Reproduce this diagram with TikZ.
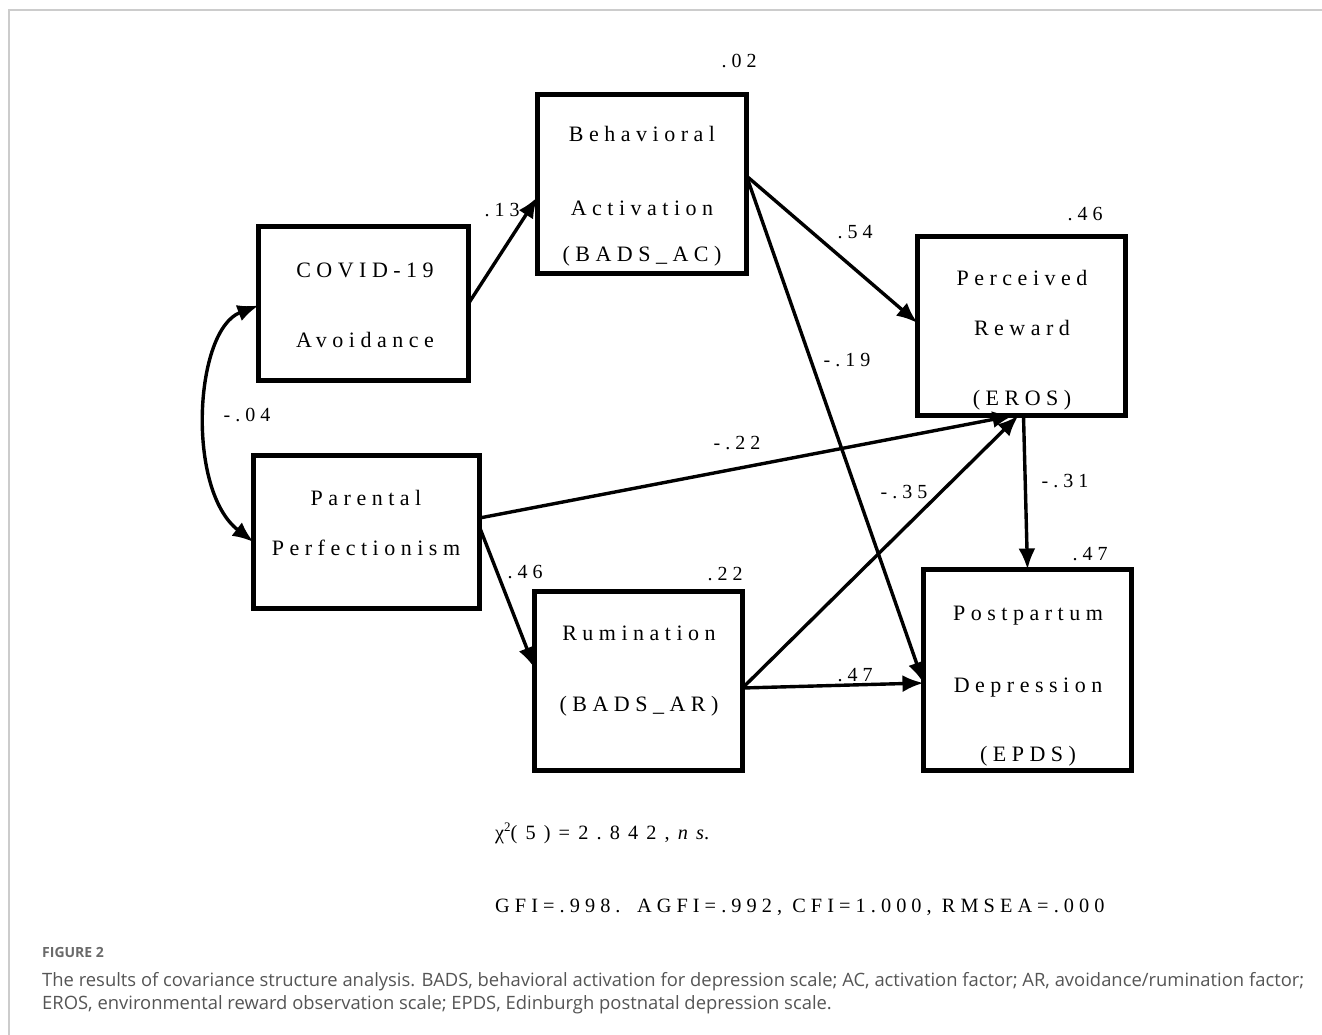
\documentclass[tikz,border=0pt]{standalone}
\usepackage{fontspec}
\usepackage{graphicx}
\setmainfont{Liberation Serif}
\newfontfamily\spfont[LetterSpace=25]{Liberation Serif}
\newfontfamily\widefont[LetterSpace=40]{Liberation Serif}
\newfontfamily\capfont{Open Sans}
\usetikzlibrary{arrows.meta}
\definecolor{capgray}{HTML}{555555}
\definecolor{figgray}{HTML}{6A6A6A}
\definecolor{framegray}{HTML}{CCCCCC}
\begin{document}
\begin{tikzpicture}[x=1pt,y=-1pt,
  box/.style={draw, line width=5.5pt, inner sep=0pt, outer sep=0pt},
  txt/.style={font=\fontsize{22}{24}\spfont, anchor=base, inner sep=0pt},
  lab/.style={font=\fontsize{20}{22}\spfont, anchor=base, inner sep=0pt},
  arr/.style={line width=3.4pt, -{Latex[length=21pt,width=17pt]}},
  cov/.style={line width=3.4pt, {Latex[length=21pt,width=17pt]}-{Latex[length=21pt,width=17pt]}},
  captxt/.style={anchor=base west, inner sep=0pt, text=capgray}
]
\useasboundingbox (0,0) rectangle (1322,1035);
\fill[white] (0,0) rectangle (1322,1035);
\draw[framegray, line width=2pt] (9,1035) -- (9,10) -- (1322,10);

% boxes
\node[box, minimum width=209pt, minimum height=179pt] (ba) at (642,184) {};
\node[box, minimum width=210pt, minimum height=154pt] (cv) at (363.5,303.5) {};
\node[box, minimum width=226pt, minimum height=153pt] (pa) at (366.5,532) {};
\node[box, minimum width=208pt, minimum height=179pt] (ru) at (638.5,681) {};
\node[box, minimum width=208pt, minimum height=179pt] (pe) at (1021.5,326) {};
\node[box, minimum width=208pt, minimum height=201pt] (pd) at (1027.5,670) {};

% box texts
\node[txt] (ba1) at (642,142) {Behavioral};
\node[txt] (ba2) at (642,215) {Activation};
\node[txt] (ba3) at (642,261) {(BADS\_AC)};
\node[txt] (cv1) at (365,277) {COVID-19};
\node[txt] (cv2) at (365,347) {Avoidance};
\node[txt] (pa1) at (366,505) {Parental};
\node[txt] (pa2) at (366,555) {Perfectionism};
\node[txt] (ru1) at (639,640) {Rumination};
\node[txt] (ru2) at (639,711) {(BADS\_AR)};
\node[txt] (pe1) at (1022,285) {Perceived};
\node[txt] (pe2) at (1022,335) {Reward};
\node[txt] (pe3) at (1022,405) {(EROS)};
\node[txt] (pd1) at (1028,620) {Postpartum};
\node[txt] (pd2) at (1028,692) {Depression};
\node[txt] (pd3) at (1028,761) {(EPDS)};

% paths
\draw[arr] (cv.east) -- ([yshift=-13pt]ba.west);
\draw[arr] ([yshift=8pt]ba.east) -- ([yshift=3pt]pe.west);
\draw[arr] ([yshift=8pt]ba.east) -- ([yshift=-13pt]pd.west);
\draw[arr] ([yshift=14pt]pa.east) -- ([xshift=-8pt]pe.south);
\draw[arr] ([yshift=5pt]pa.east) -- ([yshift=13pt]ru.west);
\draw[arr] ([yshift=-7pt]ru.east) -- ([xshift=-3pt]pe.south);
\draw[arr] ([yshift=-7pt]ru.east) -- ([yshift=-13pt]pd.west);
\draw[arr] ([xshift=2pt]pe.south) -- (pd.north);
\draw[cov] ([yshift=-2pt]cv.west) .. controls (194,330) and (186,490) .. ([yshift=-10pt]pa.west);

% coefficient labels
\node[lab] (l02) at (739,68) {.02};
\node[lab] (l13) at (502,216) {.13};
\node[lab] (l46a) at (1085,220) {.46};
\node[lab] (l54) at (855,238) {.54};
\node[lab] (l19) at (847,366) {-.19};
\node[lab] (l04) at (247,421) {-.04};
\node[lab] (l22a) at (737,449) {-.22};
\node[lab] (l35) at (904,498) {-.35};
\node[lab] (l31) at (1065,487) {-.31};
\node[lab] (l47a) at (1090,560) {.47};
\node[lab] (l46b) at (525,578) {.46};
\node[lab] (l22b) at (725,580) {.22};
\node[lab] (l47b) at (855,681) {.47};

% fit statistics
\node[font=\fontsize{20.3}{22}\widefont, anchor=base west, inner sep=0pt] (chi) at (495,839) {\makebox[214pt][s]{χ\raisebox{0.35em}{\fontsize{13}{14}\selectfont 2}(5)=\hspace{6pt plus 1fil}2.842,\hspace{6pt plus 1fil}\textit{ns}.}};
\node[font=\fontsize{20.3}{22}\spfont, anchor=base west, inner sep=0pt] (fit) at (495,912) {GFI=.998.\hspace{3pt} AGFI=.992, CFI=1.000, RMSEA=.000};

% caption
\node[captxt, text=figgray, font=\fontsize{14}{16}\capfont\bfseries] (fig) at (42,957) {FIGURE 2};
\node[captxt, font=\fontsize{18.4}{22}\capfont] (cap1) at (42,986) {The results of covariance structure analysis. BADS, behavioral activation for depression scale; AC, activation factor; AR, avoidance/rumination factor;};
\node[captxt, font=\fontsize{18.4}{22}\capfont] (cap2) at (42,1009) {EROS, environmental reward observation scale; EPDS, Edinburgh postnatal depression scale.};
\end{tikzpicture}
\end{document}
